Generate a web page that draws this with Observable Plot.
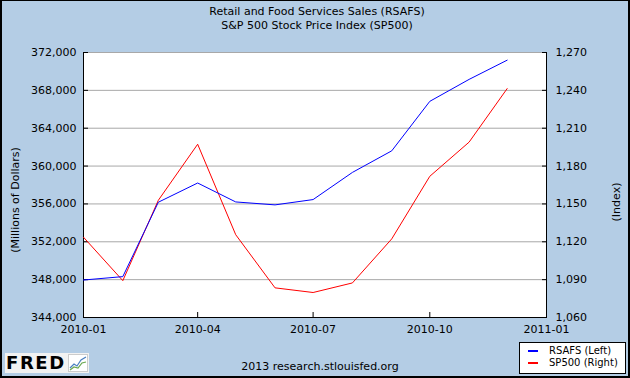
<!DOCTYPE html>
<html>
<head>
<meta charset="utf-8">
<script src="https://cdn.jsdelivr.net/npm/d3@7"></script>
<script src="https://cdn.jsdelivr.net/npm/@observablehq/plot@0.6"></script>
<style>
  html, body { margin: 0; padding: 0; background: #B4CDE5; }
  #wrap { position: relative; width: 630px; height: 378px; background: #B4CDE5; overflow: hidden;
          font-family: "DejaVu Sans", Verdana, sans-serif; color: #000; }
  #wrap svg { position: absolute; left: 0; top: 0; }
  .abs { position: absolute; white-space: nowrap; }
  #title { left: 0; top: 5px; width: 630px; text-align: center; font-size: 11px; line-height: 13.5px; padding-left: 2px; }
  .ylab { font-size: 11px; transform: translate(-50%, -50%) rotate(-90deg); }
  #border { position: absolute; left: 0; top: 0; width: 630px; height: 378px; box-sizing: border-box;
            border: 2px solid #000; border-top-width: 1px; pointer-events: none; }
  #legend { left: 519px; top: 342px; width: 107px; height: 32px; box-sizing: border-box; background: #fff;
            border: 1px solid #000; }
  .sw { position: absolute; left: 8px; width: 10px; height: 2px; }
  .lt { position: absolute; left: 29px; font-size: 10px; line-height: 12px; }
  #footer { left: 0; width: 640px; top: 360px; text-align: center; font-size: 11px; line-height: 14px; }
  #logo { left: 5px; top: 353px; width: 84px; height: 20px; background: #F2F2F2; }
  #logo .f { position: absolute; left: 1px; top: -2px; font-size: 18px; font-weight: bold; letter-spacing: 1.6px; line-height: 24px; }
</style>
</head>
<body>
<div id="wrap">
  <div id="chart"></div>
  <div id="title" class="abs">Retail and Food Services Sales (RSAFS)<br>S&amp;P 500 Stock Price Index (SP500)</div>
  <div class="abs ylab" style="left:15px; top:200px;">(Millions of Dollars)</div>
  <div class="abs ylab" style="left:616px; top:202px;">(Index)</div>
  <div id="footer" class="abs">2013 research.stlouisfed.org</div>
  <div id="logo" class="abs">
    <span class="f">FRED</span>
    <svg width="20" height="18" style="position:absolute;left:63px;top:1px;" viewBox="0 0 20 18">
      <rect x="0.5" y="0.5" width="19" height="17" fill="#fff" stroke="#ccc"/>
      <polyline points="2,14 6,10 9,12 13,6 18,3" fill="none" stroke="#4a7fc0" stroke-width="1.2"/>
      <polyline points="2,16 6,13 10,14 14,9 18,8" fill="none" stroke="#6aa84f" stroke-width="1.2"/>
    </svg>
  </div>
  <div id="legend" class="abs">
    <div class="sw" style="top:7px; background:#0000FF;"></div>
    <div class="lt" style="top:2px;">RSAFS (Left)</div>
    <div class="sw" style="top:19px; background:#FF0000;"></div>
    <div class="lt" style="top:14px;">SP500 (Right)</div>
  </div>
  <div id="border"></div>
</div>
<script>
// ---- data ----
const months = ["2010-01","2010-02","2010-03","2010-04","2010-05","2010-06",
                "2010-07","2010-08","2010-09","2010-10","2010-11","2010-12"];
const rsafs = [347960, 348320, 356180, 358210, 356210, 355900,
               356460, 359330, 361610, 366840, 369160, 371190];
const sp500 = [1123.6, 1089.2, 1152.9, 1197.3, 1125.6, 1083.5,
               1079.8, 1087.4, 1122.3, 1171.9, 1199.0, 1241.4];
const leftTicks = [344000, 348000, 352000, 356000, 360000, 364000, 368000, 372000];
const rightTicks = [1060, 1090, 1120, 1150, 1180, 1210, 1240, 1270];
const xTickLabels = ["2010-01", "2010-04", "2010-07", "2010-10", "2011-01"];

// ---- build ----
const parse = d3.utcParse("%Y-%m");
const data = months.map((m, i) => ({date: parse(m), rsafs: rsafs[i], sp500: sp500[i]}));
const xTicks = xTickLabels.map(parse);
const yDom = d3.extent(leftTicks);
const rDom = d3.extent(rightTicks);
// map right-axis values onto the left scale
const toLeft = v => yDom[0] + (v - rDom[0]) * (yDom[1] - yDom[0]) / (rDom[1] - rDom[0]);
const fromLeft = v => rDom[0] + (v - yDom[0]) * (rDom[1] - rDom[0]) / (yDom[1] - yDom[0]);
const xDom = d3.extent(xTicks);
const fmt = d3.format(",");

const chart = Plot.plot({
  width: 630, height: 378,
  marginLeft: 83, marginRight: 84, marginTop: 52, marginBottom: 61,
  style: {background: "transparent", fontFamily: "DejaVu Sans, Verdana, sans-serif", fontSize: "11px", color: "#000", overflow: "visible"},
  x: {type: "utc", domain: xDom},
  y: {domain: yDom},
  marks: [
    Plot.frame({fill: "white", stroke: null}),
    Plot.ruleY(leftTicks.slice(1), {stroke: "#A8A8A8", strokeWidth: 1}),
    Plot.ruleY([yDom[0]], {stroke: "#000"}),
    Plot.ruleX(xDom, {stroke: "#000"}),
    // inward tick marks
    Plot.axisY(leftTicks, {anchor: "left", tickSize: 5, dx: 5, fill: "none", label: null, stroke: "#000"}),
    Plot.axisY(leftTicks, {anchor: "right", tickSize: 5, dx: -5, fill: "none", label: null, stroke: "#000"}),
    Plot.axisX(xTicks, {anchor: "bottom", tickSize: 5, dy: -5, fill: "none", label: null, stroke: "#000"}),
    // tick labels
    Plot.axisY(leftTicks, {anchor: "left", tickSize: 0, tickPadding: 7, tickFormat: fmt, label: null}),
    Plot.axisY(rightTicks.map(toLeft), {anchor: "right", tickSize: 0, tickPadding: 9, tickFormat: d => fmt(Math.round(fromLeft(d))), label: null}),
    Plot.axisX(xTicks, {anchor: "bottom", tickSize: 0, tickPadding: 8, tickFormat: d3.utcFormat("%Y-%m"), label: null}),
    // series
    Plot.line(data, {x: "date", y: d => toLeft(d.sp500), stroke: "#FF0000", strokeWidth: 1}),
    Plot.line(data, {x: "date", y: "rsafs", stroke: "#0000FF", strokeWidth: 1})
  ]
});
document.getElementById("chart").appendChild(chart);
</script>
</body>
</html>
